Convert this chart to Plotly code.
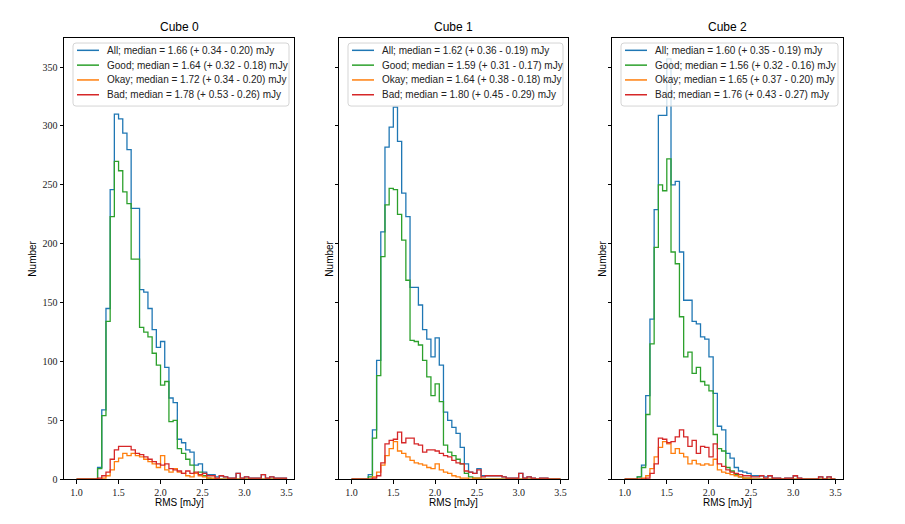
import numpy as np
import plotly.graph_objects as go

# ---------------- data ----------------
BIN_START = 1.0
BIN_WIDTH = 0.05
N_BINS = 50
EDGES = np.round(BIN_START + BIN_WIDTH * np.arange(N_BINS + 1), 3)

SERIES_NAMES = ["All", "Good", "Okay", "Bad"]
PANEL_TITLES = ["Cube 0", "Cube 1", "Cube 2"]
X_TICKS = [1.0, 1.5, 2.0, 2.5, 3.0, 3.5]
X_TICK_LABELS = ["1.0", "1.5", "2.0", "2.5", "3.0", "3.5"]
Y_TICKS = [0, 50, 100, 150, 200, 250, 300, 350]
Y_TICK_LABELS = ["0", "50", "100", "150", "200", "250", "300", "350"]

CUBE0_LABELS = [
    "All; median = 1.66 (+ 0.34 - 0.20) mJy",
    "Good; median = 1.64 (+ 0.32 - 0.18) mJy",
    "Okay; median = 1.72 (+ 0.34 - 0.20) mJy",
    "Bad; median = 1.78 (+ 0.53 - 0.26) mJy",
]
CUBE1_LABELS = [
    "All; median = 1.62 (+ 0.36 - 0.19) mJy",
    "Good; median = 1.59 (+ 0.31 - 0.17) mJy",
    "Okay; median = 1.64 (+ 0.38 - 0.18) mJy",
    "Bad; median = 1.80 (+ 0.45 - 0.29) mJy",
]
CUBE2_LABELS = [
    "All; median = 1.60 (+ 0.35 - 0.19) mJy",
    "Good; median = 1.56 (+ 0.32 - 0.16) mJy",
    "Okay; median = 1.65 (+ 0.37 - 0.20) mJy",
    "Bad; median = 1.76 (+ 0.43 - 0.27) mJy",
]

# counts per 0.05 mJy bin, bins from 1.00 to 3.50
CUBE0_ALL = [0, 0, 0, 0, 0, 10, 59, 145, 246, 310,
             306, 294, 280, 230, 230, 161, 159, 145, 127, 112,
             117, 95, 69, 65, 34, 31, 25, 23, 12, 13,
             6, 4, 4, 2, 3, 2, 1, 1, 5, 1,
             2, 1, 1, 1, 4, 1, 2, 1, 1, 1]
CUBE0_GOOD = [0, 0, 0, 0, 0, 9, 54, 134, 223, 270,
              262, 244, 234, 187, 187, 129, 125, 121, 107, 97,
              80, 83, 49, 50, 26, 22, 17, 12, 5, 6,
              3, 1, 0, 0, 0, 0, 0, 0, 0, 0,
              0, 0, 0, 0, 0, 0, 0, 0, 0, 0]
CUBE0_OKAY = [0, 0, 0, 0, 0, 0, 1, 3, 8, 15,
              18, 22, 20, 22, 20, 19, 17, 15, 13, 10,
              20, 8, 6, 9, 6, 5, 3, 2, 5, 3,
              2, 1, 1, 0, 0, 0, 0, 0, 0, 0,
              0, 0, 0, 0, 0, 0, 0, 0, 0, 0]
CUBE0_BAD = [0, 0, 0, 0, 0, 1, 3, 6, 17, 25,
             28, 28, 28, 25, 22, 21, 19, 17, 15, 13,
             12, 13, 9, 8, 7, 5, 7, 5, 6, 4,
             5, 3, 3, 1, 3, 2, 1, 1, 5, 1,
             2, 1, 1, 1, 4, 1, 2, 1, 1, 1]

CUBE1_ALL = [0, 0, 0, 0, 4, 42, 101, 210, 282, 299,
             316, 287, 243, 223, 163, 163, 148, 127, 119, 104,
             120, 97, 57, 50, 44, 39, 27, 13, 6, 5,
             9, 3, 3, 3, 3, 3, 2, 1, 1, 1,
             5, 1, 2, 1, 0, 1, 1, 0, 0, 0]
CUBE1_GOOD = [0, 0, 0, 0, 2, 35, 88, 189, 233, 247,
              246, 225, 203, 169, 118, 117, 114, 101, 87, 71,
              81, 66, 29, 23, 20, 17, 13, 5, 2, 1,
              1, 0, 0, 0, 0, 0, 0, 0, 0, 0,
              0, 0, 0, 0, 0, 0, 0, 0, 0, 0]
CUBE1_OKAY = [0, 0, 0, 0, 0, 2, 6, 12, 20, 26,
              32, 24, 22, 19, 16, 14, 13, 12, 10, 9,
              13, 8, 6, 5, 3, 2, 1, 1, 0, 1,
              1, 0, 0, 0, 0, 0, 0, 0, 0, 0,
              0, 0, 0, 0, 0, 0, 0, 0, 0, 0]
CUBE1_BAD = [0, 0, 0, 0, 0, 1, 3, 14, 30, 33,
             34, 40, 31, 35, 35, 30, 29, 23, 25, 25,
             24, 22, 20, 19, 16, 14, 13, 7, 6, 5,
             8, 2, 3, 3, 3, 3, 2, 1, 1, 1,
             5, 1, 2, 1, 0, 1, 1, 0, 0, 0]

CUBE2_ALL = [0, 0, 0, 2, 12, 71, 136, 229, 309, 309,
             357, 250, 253, 193, 152, 152, 134, 132, 121, 119,
             104, 73, 45, 42, 22, 18, 10, 7, 6, 5,
             3, 3, 3, 2, 3, 1, 1, 0, 1, 1,
             3, 1, 0, 0, 0, 0, 2, 0, 2, 0]
CUBE2_GOOD = [0, 0, 0, 2, 10, 55, 115, 197, 250, 245,
              272, 193, 183, 138, 104, 108, 90, 95, 83, 80,
              75, 38, 26, 24, 10, 7, 4, 2, 1, 1,
              0, 0, 0, 0, 0, 0, 0, 0, 0, 0,
              0, 0, 0, 0, 0, 0, 0, 0, 0, 0]
CUBE2_OKAY = [0, 0, 0, 0, 1, 3, 9, 19, 27, 32,
              30, 22, 26, 22, 19, 13, 16, 13, 12, 13,
              12, 17, 8, 6, 5, 4, 3, 2, 1, 1,
              0, 0, 0, 0, 0, 0, 0, 0, 0, 0,
              0, 0, 0, 0, 0, 0, 0, 0, 0, 0]
CUBE2_BAD = [0, 0, 0, 0, 0, 1, 5, 13, 35, 34,
             31, 32, 36, 42, 36, 28, 33, 22, 28, 27,
             19, 30, 13, 11, 8, 6, 5, 4, 3, 3,
             2, 2, 3, 1, 3, 1, 1, 0, 1, 1,
             3, 1, 0, 0, 0, 0, 2, 0, 2, 0]

PANELS = [
    (CUBE0_LABELS, [CUBE0_ALL, CUBE0_GOOD, CUBE0_OKAY, CUBE0_BAD]),
    (CUBE1_LABELS, [CUBE1_ALL, CUBE1_GOOD, CUBE1_OKAY, CUBE1_BAD]),
    (CUBE2_LABELS, [CUBE2_ALL, CUBE2_GOOD, CUBE2_OKAY, CUBE2_BAD]),
]

# ---------------- style ----------------
COLORS = ["#1f77b4", "#2ca02c", "#ff7f0e", "#d62728"]
W, H = 905, 524
VS = 1 / 0.988            # compensate for vertical squeeze observed in capture
AX_X = [(64, 294), (339, 568), (612, 843)]   # pixel extents of each axes box
AX_Y = (38, 479)
X_RANGE = [0.85, 3.59]
Y_RANGE = [0, 374.7]
SANS = "Liberation Sans, Arial, sans-serif"
SERIF = "Liberation Serif, DejaVu Serif, serif"
LEG_ROWS = [50.3, 65.1, 79.9, 94.7]   # legend row centres (px from top)
LEG_TOP, LEG_BOTTOM = 43, 106


def px(xp):
    return xp / W


def py(yp):
    return 1 - (yp * VS) / H


def step_xy(vals):
    xs = [EDGES[0]]
    ys = [0]
    for i, v in enumerate(vals):
        xs.append(EDGES[i])
        ys.append(v)
    xs += [EDGES[-1], EDGES[-1]]
    ys += [vals[-1], 0]
    return xs, ys


def rounded_rect(x0, y0, x1, y1, r):
    rx, ry = r / W, r / H
    X0, X1 = px(x0), px(x1)
    Y0, Y1 = py(y0), py(y1)   # Y0 is top
    return (f"M{X0 + rx},{Y0} L{X1 - rx},{Y0} Q{X1},{Y0} {X1},{Y0 - ry} "
            f"L{X1},{Y1 + ry} Q{X1},{Y1} {X1 - rx},{Y1} L{X0 + rx},{Y1} "
            f"Q{X0},{Y1} {X0},{Y1 + ry} L{X0},{Y0 - ry} Q{X0},{Y0} {X0 + rx},{Y0} Z")


fig = go.Figure()
for p, (labels, series) in enumerate(PANELS):
    sfx = "" if p == 0 else str(p + 1)
    for s, vals in enumerate(series):
        xs, ys = step_xy(vals)
        fig.add_trace(go.Scatter(
            x=xs, y=ys, mode="lines", line=dict(color=COLORS[s], width=1.3, shape="hv"),
            name=labels[s], xaxis="x" + sfx, yaxis="y" + sfx,
            showlegend=False, hoverinfo="skip",
        ))

layout = dict(
    width=W, height=H, margin=dict(l=0, r=0, t=0, b=0),
    plot_bgcolor="white", paper_bgcolor="white", showlegend=False,
)
annotations = []
shapes = []
y0 = py(AX_Y[1])
y1 = py(AX_Y[0])
for p in range(3):
    sfx = "" if p == 0 else str(p + 1)
    xl, xr = AX_X[p]
    layout["xaxis" + sfx] = dict(
        domain=[px(xl), px(xr)], range=X_RANGE, anchor="y" + sfx,
        tickmode="array", tickvals=X_TICKS, ticktext=X_TICK_LABELS,
        ticks="outside", ticklen=3.5, tickwidth=0.8, tickcolor="#000",
        showline=True, mirror=True, linecolor="#000", linewidth=1,
        showgrid=False, zeroline=False,
        tickfont=dict(family=SERIF, size=10, color="#222"),
    )
    layout["yaxis" + sfx] = dict(
        domain=[y0, y1], range=Y_RANGE, anchor="x" + sfx,
        tickmode="array", tickvals=Y_TICKS, ticktext=Y_TICK_LABELS,
        showticklabels=(p == 0),
        ticks="outside", ticklen=3.5, tickwidth=0.8, tickcolor="#000",
        showline=True, mirror=True, linecolor="#000", linewidth=1,
        showgrid=False, zeroline=False,
        tickfont=dict(family=SERIF, size=10, color="#222"),
    )
    # legend box
    bx0, bx1 = xl + 9, xr - 5
    shapes.append(dict(type="path", path=rounded_rect(bx0, LEG_TOP, bx1, LEG_BOTTOM, 3),
                       xref="paper", yref="paper", layer="above",
                       fillcolor="rgba(255,255,255,0.8)", line=dict(color="#d5d5d5", width=1)))
    labels = PANELS[p][0]
    for r, yr in enumerate(LEG_ROWS):
        shapes.append(dict(type="line", x0=px(bx0 + 4), x1=px(bx0 + 26), y0=py(yr), y1=py(yr),
                           xref="paper", yref="paper", layer="above",
                           line=dict(color=COLORS[r], width=1.5)))
        annotations.append(dict(text=labels[r], x=px(bx0 + 32), y=py(yr), xref="paper", yref="paper",
                                showarrow=False, xanchor="left", yanchor="middle",
                                font=dict(family=SANS, size=10, color="#222")))
    cx = px((xl + xr) / 2)
    annotations.append(dict(text=PANEL_TITLES[p], x=cx, y=py(27), xref="paper", yref="paper",
                            showarrow=False, xanchor="center", yanchor="middle",
                            font=dict(family=SANS, size=12, color="#000")))
    annotations.append(dict(text="RMS [mJy]", x=cx, y=py(502), xref="paper", yref="paper",
                            showarrow=False, xanchor="center", yanchor="middle",
                            font=dict(family=SANS, size=10, color="#000")))
    nx = 33 if p == 0 else xl - 9
    annotations.append(dict(text="Number", x=px(nx), y=(y0 + y1) / 2, xref="paper", yref="paper",
                            showarrow=False, xanchor="center", yanchor="middle", textangle=-90,
                            font=dict(family=SANS, size=10, color="#000")))
layout["annotations"] = annotations
layout["shapes"] = shapes
fig.update_layout(**layout)
POST = ("document.documentElement.style.margin='0';document.body.style.margin='0';"
        "document.documentElement.style.overflow='hidden';document.body.style.overflow='hidden';"
        "var d=document.getElementById('{plot_id}');d.style.position='fixed';"
        "d.style.top='0px';d.style.left='0px';")
fig.write_html("out.html", config={"displayModeBar": False}, post_script=POST)
